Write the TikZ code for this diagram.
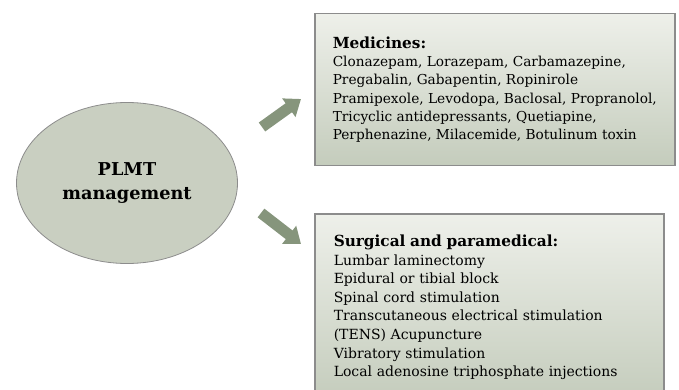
\documentclass[tikz,border=0pt]{standalone}
\usepackage{fontspec}
\setmainfont{DejaVu Serif}
\usetikzlibrary{positioning}
\usetikzlibrary{arrows.meta}
\usetikzlibrary{shapes.geometric}

\definecolor{sagefill}{RGB}{201,207,193}
\definecolor{sagearrow}{RGB}{134,149,124}
\definecolor{boxtop}{RGB}{238,240,234}
\definecolor{boxbottom}{RGB}{196,204,188}
\definecolor{boxline}{RGB}{140,140,140}

\newcommand{\listhead}[1]{{\fontsize{15.3}{18}\selectfont\bfseries #1}}

\begin{document}
\begin{tikzpicture}[x=1pt,y=-1pt,>=Stealth,
	main node/.style={ellipse,draw=boxline,line width=0.8pt,fill=sagefill,minimum width=221pt,minimum height=161pt,align=center,font=\fontsize{17.7}{24}\selectfont\bfseries},
	list box/.style={rectangle,draw=boxline,line width=1.5pt,shading=axis,top color=boxtop,bottom color=boxbottom,anchor=north west,align=left,inner ysep=0pt},
	block arrow/.style={draw=sagearrow,line width=11pt,-{Triangle[width=22pt,length=15pt]}}]

	\useasboundingbox (0,0) rectangle (679,390);

	%the central topic on the left
	\node[main node] (plmt) at (127,183) {PLMT\\management};

	%the two groups of treatments on the right
	\node[list box,minimum width=360pt,minimum height=152pt,font=\fontsize{13.7}{18.3}\selectfont] (med) at (314,13)
		{\listhead{Medicines:}\\
		Clonazepam, Lorazepam, Carbamazepine,\\
		Pregabalin, Gabapentin, Ropinirole\\
		Pramipexole, Levodopa, Baclosal, Propranolol,\\
		Tricyclic antidepressants, Quetiapine,\\
		Perphenazine, Milacemide, Botulinum toxin};

	\node[list box,minimum width=349pt,minimum height=187pt,inner xsep=19pt,text width=311pt,font=\fontsize{14}{18.6}\selectfont] (surg) at (314,213)
		{\listhead{Surgical and paramedical:}\\
		Lumbar laminectomy\\
		Epidural or tibial block\\
		Spinal cord stimulation\\
		Transcutaneous electrical stimulation\\
		(TENS) Acupuncture\\
		Vibratory stimulation\\
		Local adenosine triphosphate injections};

	%thick arrows pointing from the topic to each group
	\coordinate (up tail) at (262,127);
	\coordinate (up tip) at (301,99);
	\coordinate (down tail) at (261,213);
	\coordinate (down tip) at (301,244);
	\draw[block arrow] (up tail) -- (up tip);
	\draw[block arrow] (down tail) -- (down tip);
\end{tikzpicture}
\end{document}
